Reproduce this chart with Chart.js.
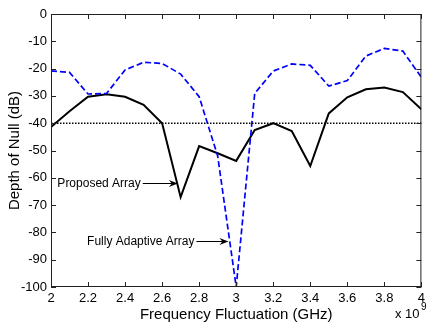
<!DOCTYPE html>
<html>
<head>
<meta charset="utf-8">
<script src="https://cdn.jsdelivr.net/npm/chart.js@4/dist/chart.umd.min.js"></script>
<style>
  html, body { margin: 0; padding: 0; background: #fff; }
</style>
</head>
<body>
<canvas id="nullChart" width="429" height="324"></canvas>
<script>
// frequency points (GHz)
const freqGHz = [2.0, 2.1, 2.2, 2.3, 2.4, 2.5, 2.6, 2.7, 2.8, 2.9, 3.0,
                 3.1, 3.2, 3.3, 3.4, 3.5, 3.6, 3.7, 3.8, 3.9, 4.0];

const proposedArray = [-41.4, -35.6, -30.3, -29.4, -30.3, -33.3, -40, -67.1, -48.4, -51, -53.8,
                       -42.5, -40, -42.9, -55.7, -36.4, -30.5, -27.6, -26.9, -28.6, -34.9];

const fullyAdaptiveArray = [-20.8, -21.4, -29.3, -29.1, -20.5, -17.7, -18.1, -22, -30.3, -52, -100,
                            -29.1, -20.9, -18.3, -18.8, -26.4, -24.4, -15.4, -12.6, -13.6, -23.2];

const thresholdX = [2, 4];
const thresholdY = [-40, -40];

const xTicks = [2, 2.2, 2.4, 2.6, 2.8, 3, 3.2, 3.4, 3.6, 3.8, 4];
const yTicks = [0, -10, -20, -30, -40, -50, -60, -70, -80, -90, -100];

// annotation labels: text, arrow start (x,y) and arrow tip x
const noteText = ["Proposed Array", "Fully Adaptive Array"];
const noteFrom = [[2.49, -61.8], [2.78, -83]];
const noteTipX = [2.685, 2.958];

const FONT = "'Liberation Sans', Arial, Helvetica, sans-serif";

const frameAndNotes = {
  id: 'frameAndNotes',
  afterDatasetsDraw(chart) {
    const ctx = chart.ctx;
    const a = chart.chartArea;
    const x = chart.scales.x;
    const y = chart.scales.y;

    ctx.save();
    ctx.strokeStyle = '#222';
    ctx.lineWidth = 1;
    ctx.strokeRect(a.left + 0.5, a.top + 0.5, a.right - a.left - 1, a.bottom - a.top - 1);

    // inward ticks on all four sides
    const tl = 5;
    ctx.beginPath();
    xTicks.forEach(v => {
      const px = Math.round(x.getPixelForValue(v)) + 0.5;
      ctx.moveTo(px, a.bottom); ctx.lineTo(px, a.bottom - tl);
      ctx.moveTo(px, a.top); ctx.lineTo(px, a.top + tl);
    });
    yTicks.forEach(v => {
      const py = Math.round(y.getPixelForValue(v)) + 0.5;
      ctx.moveTo(a.left, py); ctx.lineTo(a.left + tl, py);
      ctx.moveTo(a.right, py); ctx.lineTo(a.right - tl, py);
    });
    ctx.stroke();

    // annotations with arrows
    ctx.fillStyle = '#000';
    ctx.strokeStyle = '#000';
    ctx.font = '12px ' + FONT;
    ctx.textBaseline = 'middle';
    ctx.textAlign = 'right';
    noteText.forEach((t, i) => {
      const x0 = x.getPixelForValue(noteFrom[i][0]);
      const yy = Math.round(y.getPixelForValue(noteFrom[i][1])) + 0.5;
      const x1 = x.getPixelForValue(noteTipX[i]);
      ctx.fillText(t, x0 - 1, yy);
      ctx.lineWidth = 1;
      ctx.beginPath();
      ctx.moveTo(x0 + 1, yy); ctx.lineTo(x1 - 2, yy);
      ctx.stroke();
      ctx.beginPath();
      ctx.moveTo(x1, yy);
      ctx.lineTo(x1 - 9, yy - 3.5);
      ctx.lineTo(x1 - 6, yy);
      ctx.lineTo(x1 - 9, yy + 3.5);
      ctx.closePath();
      ctx.fill();
    });

    // exponent label
    ctx.textAlign = 'left';
    ctx.textBaseline = 'alphabetic';
    ctx.font = '13px ' + FONT;
    ctx.fillText('x 10', 395, 318);
    ctx.font = '10px ' + FONT;
    ctx.fillText('9', 421, 310);
    ctx.restore();
  }
};

new Chart(document.getElementById('nullChart'), {
  type: 'line',
  data: {
    datasets: [
      {
        label: 'Threshold',
        data: thresholdX.map((v, i) => ({ x: v, y: thresholdY[i] })),
        borderColor: '#000',
        borderWidth: 1.6,
        borderDash: [1.5, 1.5],
        pointRadius: 0
      },
      {
        label: 'Fully Adaptive Array',
        data: freqGHz.map((v, i) => ({ x: v, y: fullyAdaptiveArray[i] })),
        borderColor: '#0000ff',
        borderWidth: 1.7,
        borderDash: [6, 3],
        pointRadius: 0,
        tension: 0
      },
      {
        label: 'Proposed Array',
        data: freqGHz.map((v, i) => ({ x: v, y: proposedArray[i] })),
        borderColor: '#000',
        borderWidth: 2,
        pointRadius: 0,
        tension: 0
      }
    ]
  },
  options: {
    responsive: false,
    animation: false,
    layout: { padding: { top: 14, right: 3, left: 0, bottom: 0 } },
    plugins: { legend: { display: false }, tooltip: { enabled: false } },
    scales: {
      x: {
        type: 'linear',
        min: 2,
        max: 4,
        afterBuildTicks: s => { s.ticks = xTicks.map(v => ({ value: v })); },
        afterFit: s => { s.height = 37; },
        grid: { display: false, drawTicks: false },
        border: { display: false },
        ticks: {
          color: '#000',
          padding: 4,
          maxRotation: 0,
          autoSkip: false,
          font: { family: FONT, size: 13 },
          callback: v => String(+(+v).toFixed(1))
        },
        title: {
          display: true,
          text: 'Frequency Fluctuation (GHz)',
          color: '#000',
          padding: { top: 0, bottom: 0 },
          font: { family: FONT, size: 15 }
        }
      },
      y: {
        min: -100,
        max: 0,
        afterBuildTicks: s => { s.ticks = yTicks.map(v => ({ value: v })); },
        afterFit: s => { s.width = 51; },
        grid: { display: false, drawTicks: false },
        border: { display: false },
        ticks: {
          color: '#000',
          padding: 4,
          autoSkip: false,
          font: { family: FONT, size: 13 }
        },
        title: {
          display: true,
          text: 'Depth of Null (dB)',
          color: '#000',
          padding: { top: 6, bottom: 0 },
          font: { family: FONT, size: 15 }
        }
      }
    }
  },
  plugins: [frameAndNotes]
});
</script>
</body>
</html>
